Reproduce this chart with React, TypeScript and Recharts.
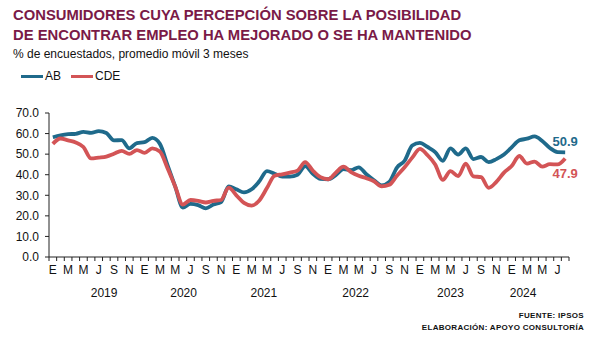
import React from "react"
import { LineChart, Line, XAxis, YAxis, Legend } from "recharts"

// meses: ene 2019 - ago 2024
const monthLetters = ["E", "F", "M", "A", "M", "J", "J", "A", "S", "O", "N", "D"]

const ab = [
    58.2, 59.1, 59.7, 59.9, 60.8, 60.3, 61.2, 60.3, 56.7, 56.8, 52.8, 55.4,
    55.8, 57.9, 55.0, 44.6, 34.3, 24.0, 25.8, 25.2, 23.6, 25.5, 26.7, 34.3,
    32.9, 31.4, 32.9, 36.8, 41.7, 40.5, 39.1, 39.1, 40.0, 44.2, 40.5, 38.0,
    37.8, 39.8, 42.7, 42.2, 43.6, 40.2, 37.3, 34.8, 36.5, 43.5, 46.8, 54.2,
    55.5, 53.5, 51.0, 46.8, 52.8, 49.8, 52.8, 47.6, 48.6, 46.1, 47.6, 49.8,
    53.3, 56.7, 57.5, 58.6, 56.4, 53.0, 51.0, 50.9,
]

const cde = [
    55.0, 57.6, 56.7, 55.7, 53.5, 47.9, 48.3, 48.8, 50.2, 51.6, 50.1, 52.0,
    50.6, 52.8, 51.3, 43.2, 34.3, 25.5, 27.7, 27.3, 26.5, 27.3, 27.7, 33.7,
    30.0, 26.3, 25.0, 27.5, 33.5, 39.5, 40.2, 41.0, 42.0, 46.1, 42.0, 38.8,
    37.8, 41.0, 43.9, 41.3, 39.5, 38.3, 36.8, 34.3, 35.1, 39.5, 43.6, 48.3,
    52.6, 49.5, 45.0, 37.5, 41.7, 39.3, 45.4, 39.2, 38.8, 33.6, 36.5, 41.0,
    44.2, 49.1, 45.4, 46.4, 43.9, 45.1, 45.0, 47.9,
]

const years = ["2019", "2020", "2021", "2022", "2023", "2024"]
// where each year label sits, in month units
const yearPos = [6.7, 17.1, 27.6, 39.6, 52.0, 61.5]

const yTicks = [0, 10, 20, 30, 40, 50, 60, 70]

const BLUE = "#1F6A8B"
const RED = "#D35456"
const TITLE = "#7A1A47"
const FONT = "'Liberation Sans', Arial, sans-serif"

const data = ab.map((v, i) => ({ i, ab: v, cde: cde[i] }))
const n = data.length
// tick marks on month boundaries, like the original
const boundaryTicks = Array.from({ length: n + 1 }, (_, k) => k - 0.5)

const W = 591
const H = 341
const PLOT_LEFT = 49
const PLOT_RIGHT = 569
const BAND = (PLOT_RIGHT - PLOT_LEFT) / n

const MonthTick = (props: any) => {
    const { x, y, payload } = props
    const idx = Math.round(payload.value + 0.5)
    if (idx >= n || idx % 2 !== 0) return <g />
    return (
        <text x={x + BAND / 2} y={y} dy="0.71em" textAnchor="middle" fontSize={12} fill="#111" fontFamily={FONT}>
            {monthLetters[idx % 12]}
        </text>
    )
}

const YearTick = (props: any) => {
    const { x, y, payload } = props
    const k = yearPos.indexOf(payload.value)
    return (
        <text x={x} y={y} dy="0.71em" textAnchor="middle" fontSize={12} fill="#111" fontFamily={FONT}>
            {years[k]}
        </text>
    )
}

const endLabel = (color: string, below: boolean) => (props: any) => {
    const { x, y, index, value } = props
    if (index !== n - 1) return null
    return (
        <text
            key={`lbl-${color}`}
            x={x}
            y={below ? y + 20 : y - 6}
            textAnchor="middle"
            fontSize={13}
            fontWeight="bold"
            fill={color}
            fontFamily={FONT}
        >
            {Number(value).toFixed(1)}
        </text>
    )
}

const renderLegend = () => (
    <div style={{ display: "flex", alignItems: "center", fontFamily: FONT, fontSize: 12, color: "#111" }}>
        <span style={{ display: "inline-block", width: 22, height: 3, background: BLUE, marginRight: 2 }} />
        <span style={{ marginRight: 10 }}>AB</span>
        <span style={{ display: "inline-block", width: 22, height: 3, background: RED, marginRight: 2 }} />
        <span>CDE</span>
    </div>
)

export default function App() {
    return (
        <div style={{ position: "fixed", left: 0, top: 0, width: W, height: H, background: "#fff", fontFamily: FONT }}>
            <div style={{ position: "absolute", left: 13, top: 5, color: TITLE, fontWeight: "bold", fontSize: 14.8, lineHeight: "20px", whiteSpace: "nowrap" }}>
                <div>CONSUMIDORES CUYA PERCEPCIÓN SOBRE LA POSIBILIDAD</div>
                <div>DE ENCONTRAR EMPLEO HA MEJORADO O SE HA MANTENIDO</div>
            </div>
            <div style={{ position: "absolute", left: 13, top: 47, fontSize: 12, color: "#111", whiteSpace: "nowrap" }}>
                % de encuestados, promedio móvil 3 meses
            </div>
            <LineChart width={W} height={H} data={data} margin={{ top: 99, right: W - PLOT_RIGHT, bottom: 43, left: 0 }}>
                <YAxis
                    width={PLOT_LEFT}
                    domain={[0, 70]}
                    ticks={yTicks}
                    tickFormatter={(v) => Number(v).toFixed(1)}
                    tick={{ fontSize: 12, fill: "#111", fontFamily: FONT }}
                    tickSize={4}
                    tickMargin={6}
                    stroke="#222"
                    interval={0}
                />
                <XAxis
                    dataKey="i"
                    type="number"
                    domain={[-0.5, n - 0.5]}
                    ticks={boundaryTicks}
                    interval={0}
                    tick={<MonthTick />}
                    tickSize={4}
                    tickMargin={4}
                    height={20}
                    stroke="#222"
                    allowDataOverflow
                />
                <XAxis
                    xAxisId="yr"
                    dataKey="i"
                    type="number"
                    domain={[-0.5, n - 0.5]}
                    ticks={yearPos}
                    interval={0}
                    tick={<YearTick />}
                    tickLine={false}
                    axisLine={false}
                    tickSize={0}
                    tickMargin={11}
                    height={21}
                />
                <Legend
                    verticalAlign="top"
                    align="left"
                    content={renderLegend}
                    wrapperStyle={{ position: "absolute", left: 21, top: 69, width: 200 }}
                />
                <Line
                    type="monotone"
                    dataKey="ab"
                    name="AB"
                    stroke={BLUE}
                    strokeWidth={3.8}
                    dot={false}
                    isAnimationActive={false}
                    label={endLabel(BLUE, false)}
                />
                <Line
                    type="monotone"
                    dataKey="cde"
                    name="CDE"
                    stroke={RED}
                    strokeWidth={3.8}
                    dot={false}
                    isAnimationActive={false}
                    label={endLabel(RED, true)}
                />
            </LineChart>
            <div style={{ position: "absolute", right: 7, top: 310, textAlign: "right", fontSize: 8, fontWeight: "bold", lineHeight: "12px", color: "#111", letterSpacing: 0.3 }}>
                <div>FUENTE: IPSOS</div>
                <div>ELABORACIÓN: APOYO CONSULTORÍA</div>
            </div>
        </div>
    )
}
